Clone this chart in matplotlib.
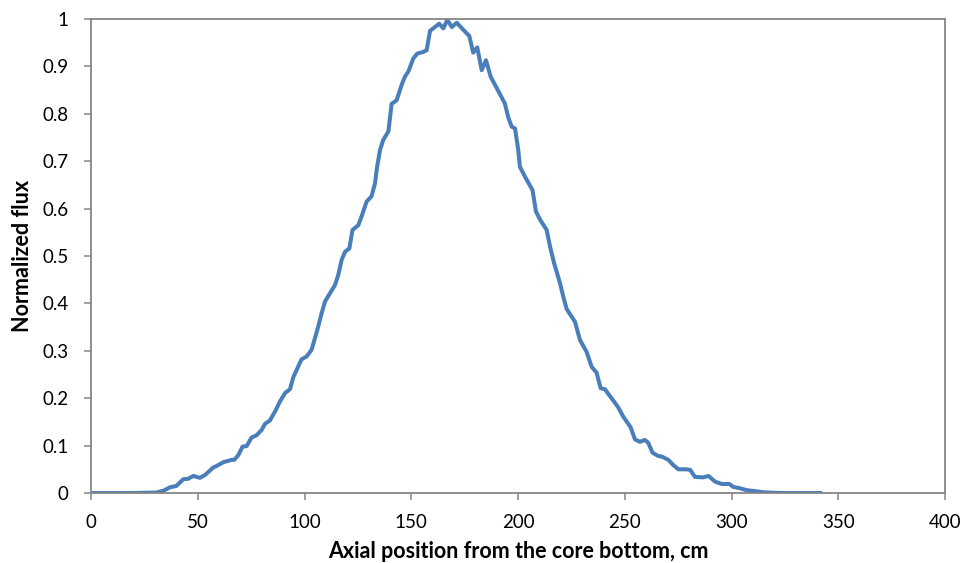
import matplotlib
matplotlib.use("Agg")
import matplotlib.pyplot as plt

# axial position (cm) and normalized flux
position = [0, 5, 10, 15, 20, 25, 30.7, 34, 37, 40, 43.2, 45.5, 47.9, 51, 53.4,
            57.3, 58.8, 62, 65.9, 67.1, 69, 71, 72.9, 75.2, 77.6, 79.9, 81.5,
            83.8, 86.2, 88.5, 90.9, 93.2, 94.8, 98.6, 101, 103.3, 106, 108,
            109.6, 111.9, 114.3, 115.8, 117.4, 119, 121, 122.5, 125.2, 126.7,
            129.1, 131.4, 133, 134, 135.4, 136.9, 139.3, 140.8, 143.1, 145.5,
            147, 148.6, 151, 152.8, 155.3, 157.2, 158.8, 161.1, 163.1, 165,
            166.9, 169, 171.3, 174.4, 177.2, 179, 180.9, 183, 185, 187.2,
            189.7, 192.3, 193.9, 195.4, 197, 198.6, 200.1, 200.9, 203.3,
            206.8, 208.4, 210.3, 213.4, 215, 216.9, 219.7, 221.2, 222.8,
            226.7, 229, 232.1, 234.5, 236.8, 238.7, 240.7, 243.8, 246.9,
            249.3, 252.7, 254.8, 257.1, 259.4, 261, 263, 265.7, 267.3, 270.4,
            272.7, 275.1, 278.7, 280.6, 282.9, 286.8, 289.2, 292.3, 295.4,
            299, 300.8, 304, 307.1, 311, 314.9, 320, 325, 330, 335, 341.5]
flux = [0.0, 0.0, 0.0, 0.0, 0.0, 0.0005, 0.001, 0.005, 0.012, 0.015, 0.029,
        0.030, 0.036, 0.032, 0.038, 0.054, 0.057, 0.065, 0.070, 0.070, 0.080,
        0.098, 0.099, 0.117, 0.122, 0.133, 0.146, 0.153, 0.172, 0.193, 0.211,
        0.219, 0.245, 0.282, 0.288, 0.302, 0.344, 0.379, 0.404, 0.421, 0.439,
        0.460, 0.492, 0.509, 0.516, 0.555, 0.565, 0.583, 0.615, 0.626, 0.653,
        0.688, 0.724, 0.745, 0.763, 0.821, 0.828, 0.861, 0.878, 0.889, 0.917,
        0.927, 0.930, 0.934, 0.975, 0.983, 0.990, 0.980, 0.998, 0.983, 0.992,
        0.977, 0.964, 0.929, 0.940, 0.892, 0.913, 0.878, 0.857, 0.835, 0.821,
        0.793, 0.773, 0.769, 0.724, 0.688, 0.667, 0.639, 0.594, 0.577, 0.555,
        0.520, 0.485, 0.442, 0.414, 0.388, 0.361, 0.323, 0.298, 0.266, 0.254,
        0.221, 0.219, 0.200, 0.181, 0.161, 0.139, 0.113, 0.108, 0.112, 0.106,
        0.085, 0.078, 0.077, 0.070, 0.059, 0.050, 0.050, 0.049, 0.034, 0.033,
        0.036, 0.024, 0.019, 0.019, 0.013, 0.010, 0.006, 0.004, 0.0015, 0.0005,
        0.0, 0.0, 0.0, 0.0]

x_ticks = [0, 50, 100, 150, 200, 250, 300, 350, 400]
y_ticks = [0, 0.1, 0.2, 0.3, 0.4, 0.5, 0.6, 0.7, 0.8, 0.9, 1]
y_labels = ['0', '0.1', '0.2', '0.3', '0.4', '0.5', '0.6', '0.7', '0.8', '0.9', '1']

plt.rcParams['font.family'] = ['Lato', 'DejaVu Sans']

fig = plt.figure(figsize=(9.66, 5.63), dpi=100)
ax = fig.add_axes([0.0942, 0.1243, 0.8841, 0.8420])

ax.plot(position, flux, color='#4a7ebb', linewidth=2.9, solid_joinstyle='round')

ax.set_xlim(0, 400)
ax.set_ylim(0, 1)
ax.set_xticks(x_ticks)
ax.set_yticks(y_ticks)
ax.set_yticklabels(y_labels)

for side in ax.spines.values():
    side.set_color('#868686')
    side.set_linewidth(1.3)

ax.tick_params(axis='both', direction='out', length=5, width=1.1,
               color='#868686', labelsize=13.5, labelcolor='black')
ax.tick_params(axis='y', pad=11)
ax.tick_params(axis='x', pad=10)

ax.set_xlabel('Axial position from the core bottom, cm', fontsize=15.5,
              fontweight='bold')
ax.set_ylabel('Normalized flux', fontsize=15.5, fontweight='bold')
ax.xaxis.set_label_coords(0.5, -0.101)
ax.yaxis.set_label_coords(-0.068, 0.5)

fig.savefig('out.png', dpi=100)
